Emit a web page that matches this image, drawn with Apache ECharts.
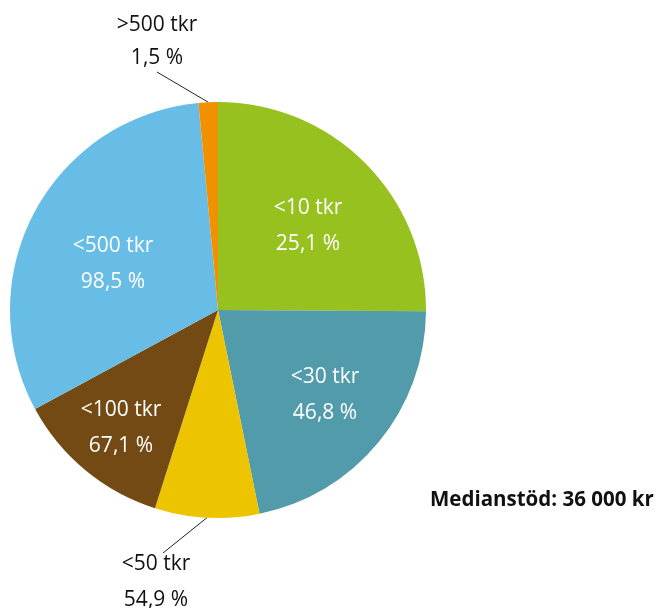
<!DOCTYPE html>
<html><head><meta charset="utf-8">
<script src="https://cdn.jsdelivr.net/npm/echarts@6/dist/echarts.min.js"></script>
<style>html,body{margin:0;padding:0;background:#fff}#c{width:657px;height:608px}</style>
</head><body><div id="c"></div>
<script>
// Data
const categories = ['<10 tkr', '<30 tkr', '<50 tkr', '<100 tkr', '<500 tkr', '>500 tkr'];
const shares = [25.1, 21.7, 8.1, 12.2, 31.4, 1.5];           // slice sizes (%)
const labelValues = ['25,1 %', '46,8 %', '54,9 %', '67,1 %', '98,5 %', '1,5 %']; // printed labels
const colors = ['#96C11F', '#519BAA', '#ECC500', '#744A14', '#67BDE6', '#F29100'];
const footnote = 'Medianstöd: 36 000 kr';

const CX = 218, CY = 310, R = 208;
const total = shares.reduce((a, b) => a + b, 0);
const midAngles = [];
{ let acc = 0; shares.forEach(v => { midAngles.push(90 - (acc + v / 2) / total * 360); acc += v; }); }
// label block centres (layout)
const labelPos = {
  0: {x: 308, y: 226},
  1: {x: 325, y: 395},
  2: {x: 156, y: 582, end: [163, 553]},
  3: {x: 121, y: 428},
  4: {x: 113, y: 264},
  5: {x: 157, y: 42, end: [157, 72], lh: 33}
};

const font = '"Open Sans", "Noto Sans", sans-serif';
const chart = echarts.init(document.getElementById('c'), null, {renderer: 'canvas'});
chart.setOption({
  animation: false,
  title: {
    text: footnote, left: 425, top: 485,
    textStyle: {fontFamily: font, fontSize: 20.5, fontWeight: 'bold', color: '#111'}
  },
  series: [{
    type: 'pie',
    center: [CX, CY],
    radius: R,
    startAngle: 90,
    clockwise: true,
    silent: true,
    itemStyle: {borderWidth: 0},
    data: categories.map((c, i) => {
      const o = labelPos[i];
      return {
        name: c, value: shares[i],
        itemStyle: {color: colors[i]},
        label: o.end ? {position: 'outside', color: '#111', lineHeight: o.lh || 36} : {position: 'inside', color: '#fff'},
        labelLine: {show: !!o.end, lineStyle: {color: '#222', width: 1}, length: 10, length2: 10}
      };
    }),
    label: {
      show: true,
      fontFamily: font,
      fontSize: 21,
      lineHeight: 36,
      formatter: p => categories[p.dataIndex] + '\n' + labelValues[p.dataIndex]
    },
    labelLayout: function (p) {
      const i = p.dataIndex;
      const o = labelPos[i];
      const a = midAngles[i] * Math.PI / 180;
      const res = {x: o.x, y: o.y, align: 'center', verticalAlign: 'middle'};
      if (o.end) {
        res.labelLinePoints = [[CX + R * Math.cos(a), CY - R * Math.sin(a)], o.end, o.end];
      }
      return res;
    }
  }]
});
</script></body></html>
